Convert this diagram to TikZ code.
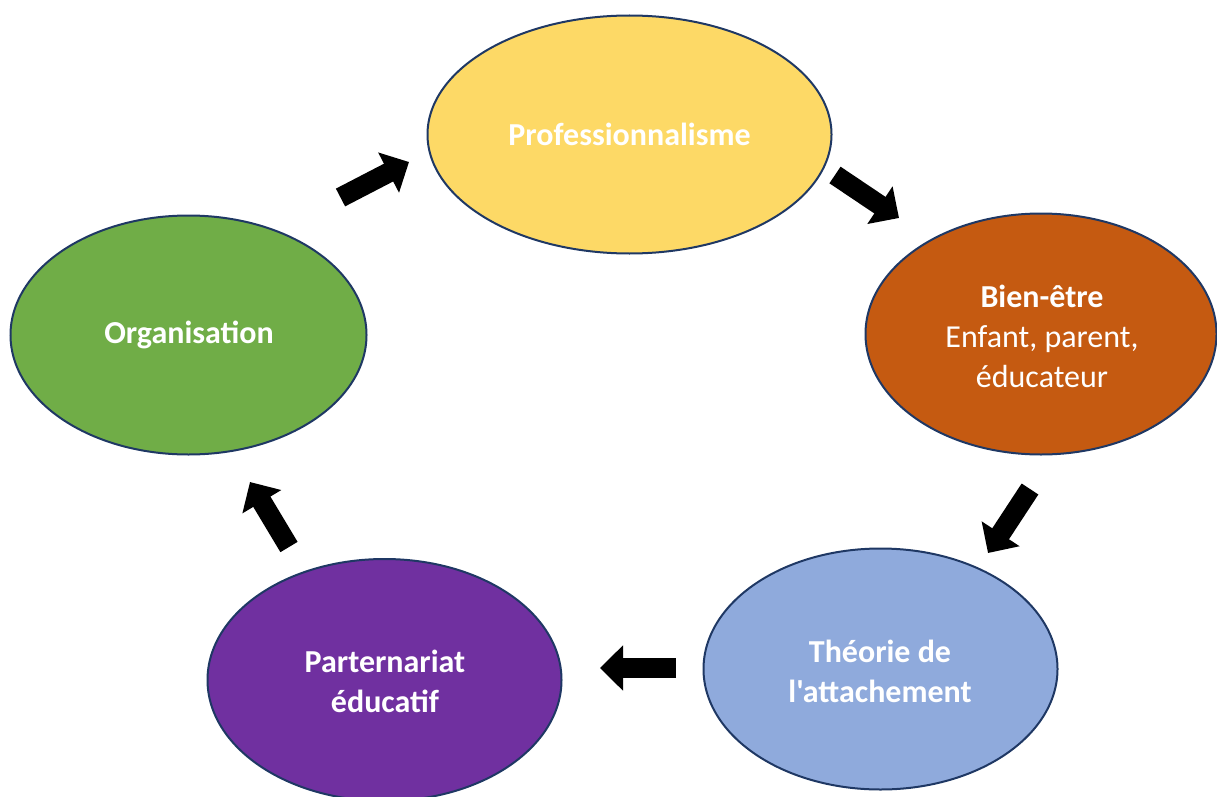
\documentclass[tikz,border=0pt]{standalone}
\usepackage{fontspec}
\setmainfont{Carlito}[Ligatures=TeXOff]
\usetikzlibrary{shapes.geometric,arrows.meta}
\definecolor{cyellow}{HTML}{FDD966}
\definecolor{corange}{HTML}{C55A11}
\definecolor{cblue}{HTML}{8FAADC}
\definecolor{cpurple}{HTML}{7030A0}
\definecolor{cgreen}{HTML}{70AD47}
\definecolor{cborder}{HTML}{1F3864}
\begin{document}
\begin{tikzpicture}[x=1pt,y=-1pt,
  blob/.style={ellipse, draw=cborder, line width=2pt, inner sep=0pt},
  lbl/.style={text=white, font=\fontsize{32}{40}\selectfont, align=center},
  blbl/.style={lbl, font=\fontsize{32}{40}\selectfont\bfseries},
  blockarrow/.style={draw=black, line width=20pt, line cap=butt,
    -{Triangle[length=23pt, width=44pt]}}]
\useasboundingbox (0,0) rectangle (1217,797);
% ellipses
\node[blob, fill=cyellow, minimum width=404pt, minimum height=238pt] (prof) at (629.5,134.5) {};
\node[blob, fill=corange, minimum width=351pt, minimum height=241pt] (bien) at (1041,334) {};
\node[blob, fill=cblue, minimum width=354pt, minimum height=241pt] (theo) at (880.5,669) {};
\node[blob, fill=cpurple, minimum width=354pt, minimum height=242pt] (part) at (384.5,680) {};
\node[blob, fill=cgreen, minimum width=356pt, minimum height=239pt] (orga) at (188.5,335) {};
% labels
\node[blbl] (tprof) at (629.5,134) {Professionnalisme};
\node[lbl] (tbien) at (1042,336) {\textbf{Bien-être}\\Enfant, parent,\\éducateur};
\node[blbl] (ttheo) at (880,671) {Théorie de\\l'attachement};
\node[blbl] (tpart) at (385,681) {Parternariat\\éducatif};
\node[blbl] (torga) at (189,335) {Organisation};
% arrows
\coordinate (a1s) at (340.5,197.5); \coordinate (a1e) at (409,162);
\coordinate (a2s) at (835,175);     \coordinate (a2e) at (899,218);
\coordinate (a3s) at (1030,489);    \coordinate (a3e) at (988,553);
\coordinate (a4s) at (676,668);     \coordinate (a4e) at (600,668);
\coordinate (a5s) at (289,547);     \coordinate (a5e) at (250,482);
\draw[blockarrow] (a1s) -- (a1e);
\draw[blockarrow] (a2s) -- (a2e);
\draw[blockarrow] (a3s) -- (a3e);
\draw[blockarrow] (a4s) -- (a4e);
\draw[blockarrow] (a5s) -- (a5e);
\end{tikzpicture}
\end{document}
